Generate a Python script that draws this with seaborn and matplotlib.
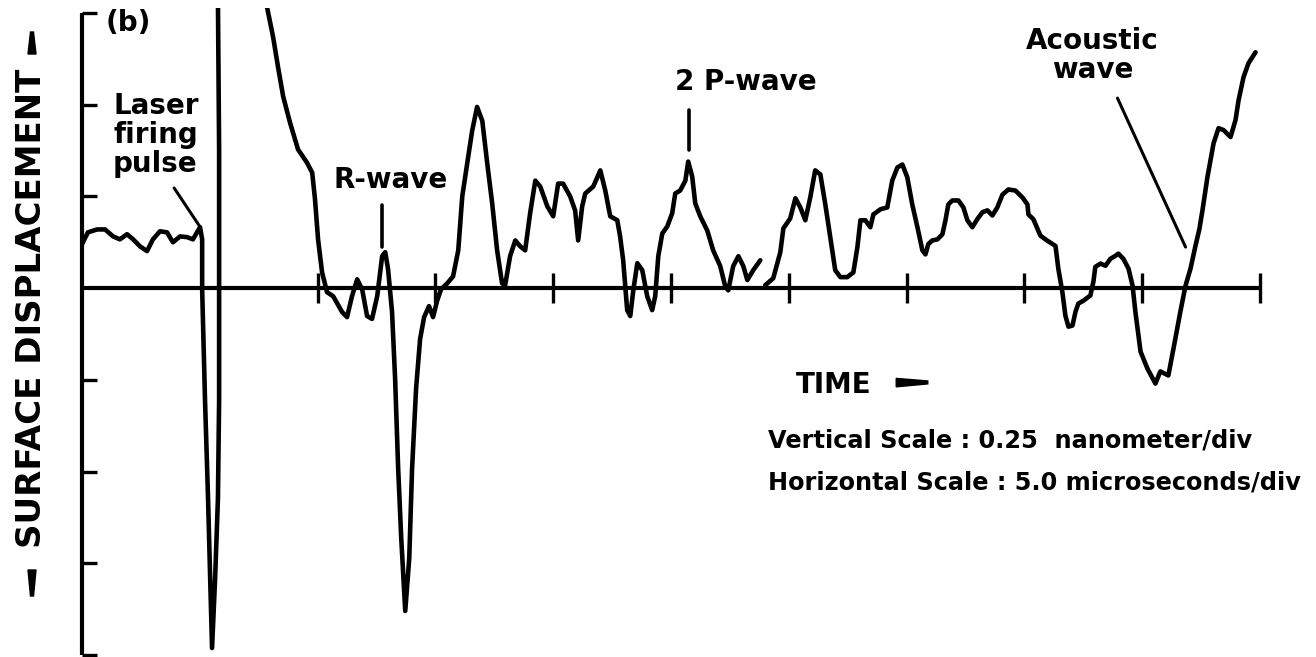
import matplotlib
matplotlib.use("Agg")
import matplotlib.pyplot as plt
import pandas as pd
import seaborn as sns
from matplotlib.patches import Polygon

# ---- data: time in microseconds, surface displacement in nanometres ----
# pre-trigger noise + laser firing pulse (runs off the top of the trace)
time_pre = [0.0, 0.25, 0.64, 0.98, 1.32, 1.61, 1.91, 2.17, 2.46, 2.76, 3.01,
            3.31, 3.61, 3.86, 4.16, 4.46, 4.71, 4.88, 5.01, 5.10, 5.10, 5.22,
            5.35, 5.44, 5.52, 5.65, 5.77, 5.82, 5.82, 5.82, 5.77]
disp_pre = [0.120, 0.152, 0.160, 0.160, 0.141, 0.133, 0.147, 0.133, 0.114,
            0.101, 0.133, 0.155, 0.152, 0.125, 0.141, 0.139, 0.133, 0.152,
            0.166, 0.133, -0.003, -0.302, -0.573, -0.791, -0.981, -0.791,
            -0.573, -0.302, -0.003, 0.378, 0.780]

# main record: R-wave, P-waves ...
time_main = [7.81, 8.11, 8.32, 8.54, 8.83, 9.17, 9.55, 9.77, 9.89, 10.02,
             10.19, 10.40, 10.66, 11.04, 11.25, 11.46, 11.68, 11.89, 12.10,
             12.31, 12.53, 12.74, 12.87, 12.99, 13.16, 13.29, 13.42, 13.55,
             13.72, 13.89, 14.01, 14.18, 14.35, 14.52, 14.73, 14.90, 15.07,
             15.24, 15.50, 15.75, 15.97, 16.14, 16.35, 16.56, 16.77, 16.99,
             17.20, 17.41, 17.62, 17.83, 17.96, 18.17, 18.39, 18.60, 18.81,
             19.02, 19.24, 19.45, 19.75, 20.00, 20.21, 20.42, 20.72, 20.93,
             21.06, 21.23, 21.36, 21.70, 22.00, 22.21, 22.42, 22.72, 22.84,
             22.97, 23.14, 23.27, 23.40, 23.57, 23.78, 23.99, 24.20, 24.33,
             24.46, 24.63, 24.84, 25.05, 25.18, 25.39, 25.61, 25.73, 25.90,
             26.03, 26.24, 26.54, 26.79, 27.09, 27.30, 27.43, 27.64, 27.86,
             28.07, 28.24, 28.49, 28.79]
disp_main = [0.780, 0.685, 0.603, 0.522, 0.451, 0.378, 0.342, 0.315, 0.242,
             0.133, 0.043, -0.011, -0.022, -0.065, -0.079, -0.022, 0.024,
             -0.003, -0.076, -0.084, -0.022, 0.087, 0.098, 0.052, -0.065,
             -0.247, -0.492, -0.682, -0.880, -0.736, -0.492, -0.274, -0.139,
             -0.079, -0.049, -0.079, -0.035, -0.003, 0.013, 0.032, 0.103,
             0.250, 0.340, 0.429, 0.494, 0.456, 0.340, 0.231, 0.103, 0.013,
             0.008, 0.087, 0.130, 0.114, 0.103, 0.204, 0.293, 0.277, 0.223,
             0.196, 0.285, 0.285, 0.250, 0.212, 0.130, 0.223, 0.258, 0.277,
             0.321, 0.266, 0.196, 0.185, 0.141, 0.076, -0.060, -0.076, -0.006,
             0.068, 0.049, -0.022, -0.060, -0.022, 0.087, 0.149, 0.168, 0.204,
             0.258, 0.266, 0.293, 0.345, 0.304, 0.231, 0.196, 0.157, 0.103,
             0.060, 0.005, -0.006, 0.060, 0.087, 0.060, 0.022, 0.049, 0.076]

# late record: ... up to the acoustic wave
time_late = [29.00, 29.34, 29.64, 29.77, 30.06, 30.28, 30.49, 30.70, 30.91,
             31.12, 31.34, 31.55, 31.76, 31.97, 32.19, 32.48, 32.74, 32.91,
             33.04, 33.25, 33.46, 33.59, 33.89, 34.18, 34.39, 34.61, 34.82,
             35.03, 35.24, 35.46, 35.67, 35.80, 35.92, 36.09, 36.31, 36.52,
             36.65, 36.77, 36.94, 37.20, 37.41, 37.58, 37.79, 38.00, 38.22,
             38.43, 38.64, 38.85, 39.07, 39.32, 39.62, 39.92, 40.13, 40.17,
             40.38, 40.68, 40.98, 41.32, 41.44, 41.61, 41.74, 41.87, 42.04,
             42.17, 42.29, 42.51, 42.80, 42.93, 43.01, 43.23, 43.44, 43.65,
             43.86, 43.99, 44.20, 44.42, 44.59, 44.71, 44.93, 45.22, 45.56,
             45.77, 46.11, 46.33, 46.62, 46.84, 47.05, 47.26, 47.43, 47.56,
             47.77, 48.03, 48.24, 48.45, 48.75, 48.96, 49.09, 49.30, 49.51,
             49.81]
disp_late = [0.008, 0.027, 0.098, 0.163, 0.190, 0.245, 0.220, 0.185, 0.247,
             0.321, 0.310, 0.228, 0.139, 0.049, 0.030, 0.030, 0.043, 0.111,
             0.185, 0.185, 0.166, 0.201, 0.215, 0.220, 0.293, 0.329, 0.337,
             0.302, 0.228, 0.166, 0.103, 0.092, 0.120, 0.130, 0.133, 0.147,
             0.185, 0.228, 0.239, 0.239, 0.220, 0.185, 0.166, 0.188, 0.207,
             0.212, 0.198, 0.220, 0.255, 0.269, 0.266, 0.247, 0.228, 0.201,
             0.188, 0.143, 0.129, 0.115, 0.053, -0.010, -0.075, -0.105,
             -0.102, -0.064, -0.042, -0.034, -0.020, 0.018, 0.058, 0.067,
             0.061, 0.080, 0.088, 0.094, 0.080, 0.053, 0.007, -0.064, -0.173,
             -0.219, -0.260, -0.227, -0.238, -0.164, -0.064, 0.007, 0.053,
             0.115, 0.162, 0.213, 0.303, 0.395, 0.436, 0.431, 0.412, 0.458,
             0.512, 0.575, 0.613, 0.643]

x_ticks_us = [10, 15, 20, 25, 30, 35, 40, 45, 50]
y_ticks_nm = [-1.0, -0.75, -0.5, -0.25, 0.25, 0.5, 0.75]

df = pd.concat([
    pd.DataFrame({"time": time_pre, "disp": disp_pre, "segment": "pre"}),
    pd.DataFrame({"time": time_main, "disp": disp_main, "segment": "main"}),
    pd.DataFrame({"time": time_late, "disp": disp_late, "segment": "late"}),
], ignore_index=True)

# ---- style ----
sns.set_theme(style="white")
plt.rcParams["font.family"] = ["DejaVu Sans"]
TXT = dict(fontsize=20, fontweight="bold", color="black")
SCALE_TXT = dict(fontsize=17.3, fontweight="bold", color="black")

W, H = 1316, 657
fig = plt.figure(figsize=(W / 100, H / 100), dpi=100)
fig.patch.set_facecolor("white")
ax = fig.add_axes([82 / W, 2 / H, 1178 / W, 647.5 / H])

sns.lineplot(data=df, x="time", y="disp", units="segment", estimator=None,
             sort=False, color="black", linewidth=3.3, legend=False, ax=ax)
for ln in ax.get_lines():
    ln.set_solid_capstyle("round")
    ln.set_solid_joinstyle("round")

ax.set_xlim(0, 50)
ax.set_ylim(-1.0, 0.765)
ax.set_xlabel("")
ax.set_ylabel("")
for s in ("top", "right"):
    ax.spines[s].set_visible(False)
ax.spines["bottom"].set_position(("data", 0))
ax.spines["left"].set_bounds(-1.0, 0.75)
for s in ("bottom", "left"):
    ax.spines[s].set_linewidth(3.0)
    ax.spines[s].set_color("black")
    ax.spines[s].set_capstyle("butt")
ax.set_xticks(x_ticks_us)
ax.set_yticks(y_ticks_nm)
ax.tick_params(axis="x", direction="inout", length=21, width=2.4,
               color="black", bottom=True, labelbottom=False)
ax.tick_params(axis="y", direction="in", length=11, width=2.4,
               color="black", left=True, labelleft=False)
ax.grid(False)

# ---- annotations ----
ax.text(1.95, 0.723, "(b)", ha="center", va="center", **TXT)
ax.text(1.32, 0.535, "Laser\nfiring\npulse", ha="left", va="top",
        linespacing=1.05, **TXT)
ax.plot([3.91, 5.01], [0.273, 0.167], color="black", lw=2.2)

ax.text(13.08, 0.295, "R-wave", ha="center", va="center", **TXT)
ax.plot([12.74, 12.74], [0.226, 0.112], color="black", lw=2.6)

ax.text(28.18, 0.562, "2 P-wave", ha="center", va="center", **TXT)
ax.plot([25.78, 25.78], [0.485, 0.376], color="black", lw=2.6)

ax.text(42.9, 0.633, "Acoustic\nwave", ha="center", va="center",
        linespacing=1.05, **TXT)
ax.plot([43.95, 46.84], [0.518, 0.112], color="black", lw=2.2)

ax.text(30.28, -0.263, "TIME", ha="left", va="center", **TXT)
ax.add_patch(Polygon([(34.56, -0.246), (35.9, -0.253), (35.9, -0.261),
                      (34.56, -0.269)], closed=True, color="black"))


def px(x, y):
    return (x / W, 1 - y / H)


fig.text(*px(768, 441), "Vertical Scale : 0.25  nanometer/div",
         ha="left", va="center", **SCALE_TXT)
fig.text(*px(768, 482), "Horizontal Scale : 5.0 microseconds/div",
         ha="left", va="center", **SCALE_TXT)

fig.text(*px(32, 308), "SURFACE DISPLACEMENT", rotation=90,
         ha="center", va="center", fontsize=24.5, fontweight="bold",
         color="black")
fig.add_artist(Polygon([px(30.5, 32), px(33.5, 32), px(36, 54), px(28, 54)],
                       closed=True, color="black", transform=fig.transFigure))
fig.add_artist(Polygon([px(28, 570), px(36, 570), px(33.5, 596), px(30.5, 596)],
                       closed=True, color="black", transform=fig.transFigure))

fig.savefig("out.png", dpi=100)
